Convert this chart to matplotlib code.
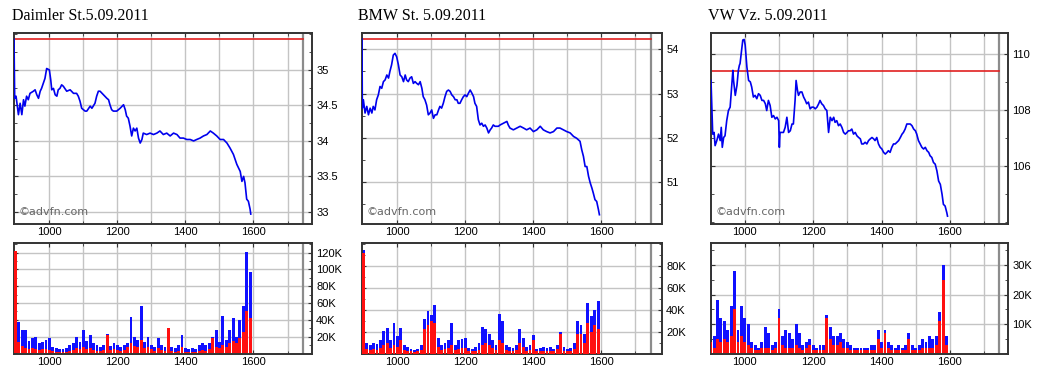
import matplotlib
matplotlib.use("Agg")
import matplotlib.pyplot as plt
from matplotlib.ticker import FixedLocator, AutoMinorLocator

# ---- data -------------------------------------------------------------
TITLES = ["Daimler St.5.09.2011", "BMW St. 5.09.2011", "VW Vz. 5.09.2011"]

DAI_T = [896, 898, 902, 909, 914, 919, 924, 928, 933, 938, 943, 953, 958, 963, 968, 973, 977, 982,
         987, 992, 1000, 1004, 1007, 1012, 1017, 1022, 1026, 1031, 1036, 1041, 1051, 1061, 1071,
         1080, 1085, 1090, 1095, 1100, 1105, 1110, 1120, 1125, 1134, 1139, 1144, 1149, 1159, 1169,
         1174, 1178, 1183, 1188, 1198, 1208, 1218, 1223, 1227, 1232, 1237, 1242, 1247, 1252, 1257,
         1262, 1267, 1272, 1276, 1286, 1296, 1306, 1316, 1325, 1335, 1345, 1355, 1365, 1375, 1384,
         1394, 1404, 1414, 1424, 1433, 1443, 1453, 1463, 1473, 1482, 1492, 1502, 1512, 1522, 1531,
         1541, 1551, 1561, 1566, 1571, 1575, 1580, 1585, 1590, 1592]
DAI_P = [35.43, 34.60, 34.63, 34.37, 34.53, 34.37, 34.58, 34.49, 34.63, 34.58, 34.67, 34.70, 34.72,
         34.65, 34.60, 34.70, 34.74, 34.81, 34.88, 35.02, 35.00, 34.86, 34.72, 34.74, 34.65, 34.63,
         34.72, 34.74, 34.79, 34.77, 34.70, 34.72, 34.67, 34.67, 34.63, 34.56, 34.46, 34.44, 34.42,
         34.42, 34.49, 34.46, 34.53, 34.63, 34.70, 34.70, 34.65, 34.60, 34.58, 34.51, 34.44, 34.42,
         34.42, 34.46, 34.51, 34.44, 34.35, 34.32, 34.21, 34.07, 34.18, 34.14, 34.18, 34.04, 33.97,
         34.02, 34.11, 34.09, 34.11, 34.09, 34.11, 34.14, 34.09, 34.11, 34.07, 34.11, 34.09, 34.04,
         34.04, 34.02, 34.02, 34.00, 34.02, 34.04, 34.07, 34.09, 34.14, 34.11, 34.07, 34.02, 34.02,
         33.97, 33.90, 33.81, 33.67, 33.57, 33.43, 33.50, 33.41, 33.18, 33.15, 33.04, 32.97]

BMW_T = [896, 897, 900, 905, 910, 915, 920, 925, 929, 934, 939, 944, 949, 954, 959, 964, 969, 974,
         978, 983, 988, 993, 998, 1003, 1008, 1013, 1018, 1023, 1027, 1032, 1037, 1042, 1047, 1052,
         1057, 1062, 1067, 1072, 1076, 1081, 1086, 1091, 1096, 1101, 1106, 1111, 1116, 1121, 1125,
         1130, 1135, 1140, 1145, 1150, 1155, 1160, 1165, 1170, 1175, 1179, 1184, 1189, 1194, 1199,
         1204, 1209, 1214, 1219, 1224, 1228, 1233, 1238, 1243, 1248, 1253, 1258, 1263, 1268, 1273,
         1277, 1282, 1287, 1292, 1297, 1302, 1312, 1322, 1326, 1331, 1341, 1351, 1361, 1371, 1380,
         1390, 1400, 1410, 1420, 1429, 1439, 1449, 1459, 1469, 1478, 1488, 1498, 1508, 1518, 1527,
         1537, 1542, 1547, 1552, 1557, 1562, 1567, 1572, 1576, 1581, 1586, 1591, 1594]
BMW_P = [54.23, 52.67, 52.86, 52.56, 52.71, 52.52, 52.67, 52.56, 52.71, 52.63, 52.86, 52.97, 53.16,
         53.12, 53.27, 53.31, 53.42, 53.35, 53.50, 53.65, 53.87, 53.91, 53.83, 53.65, 53.42, 53.38,
         53.27, 53.42, 53.31, 53.27, 53.35, 53.38, 53.23, 53.27, 53.23, 53.20, 53.27, 53.12, 52.93,
         52.86, 52.74, 52.52, 52.56, 52.63, 52.44, 52.52, 52.52, 52.63, 52.71, 52.67, 52.78, 52.93,
         53.05, 53.08, 53.05, 52.97, 52.93, 52.86, 52.86, 52.78, 52.78, 52.86, 52.93, 52.97, 52.93,
         53.01, 53.08, 53.01, 52.93, 52.78, 52.71, 52.41, 52.29, 52.33, 52.26, 52.29, 52.22, 52.11,
         52.18, 52.22, 52.29, 52.26, 52.26, 52.26, 52.29, 52.33, 52.37, 52.29, 52.22, 52.18, 52.22,
         52.26, 52.22, 52.18, 52.22, 52.14, 52.18, 52.26, 52.18, 52.14, 52.11, 52.14, 52.22, 52.22,
         52.18, 52.14, 52.11, 52.03, 51.99, 51.92, 51.73, 51.58, 51.35, 51.35, 51.13, 50.98, 50.86,
         50.75, 50.60, 50.56, 50.38, 50.26]

VW_T = [901, 906, 910, 913, 918, 923, 928, 931, 934, 938, 942, 947, 952, 957, 962, 965, 967, 972,
        977, 981, 984, 986, 991, 994, 998, 1001, 1006, 1011, 1016, 1020, 1025, 1030, 1035, 1040,
        1045, 1050, 1055, 1060, 1064, 1069, 1074, 1079, 1084, 1089, 1094, 1099, 1101, 1103, 1108,
        1113, 1118, 1123, 1128, 1133, 1138, 1142, 1147, 1150, 1154, 1157, 1162, 1167, 1172, 1177,
        1181, 1186, 1191, 1196, 1201, 1206, 1211, 1216, 1220, 1225, 1230, 1235, 1240, 1245, 1250,
        1255, 1260, 1264, 1269, 1274, 1279, 1284, 1289, 1294, 1299, 1303, 1308, 1313, 1318, 1323,
        1328, 1333, 1338, 1342, 1347, 1352, 1357, 1362, 1367, 1372, 1377, 1381, 1386, 1391, 1396,
        1401, 1406, 1411, 1416, 1420, 1425, 1430, 1435, 1440, 1445, 1450, 1455, 1460, 1464, 1469,
        1474, 1479, 1484, 1489, 1494, 1499, 1503, 1508, 1513, 1518, 1523, 1528, 1533, 1538, 1542,
        1547, 1552, 1557, 1562, 1567, 1572, 1577, 1581, 1586, 1591, 1593]
VW_P = [109.04, 107.13, 107.19, 106.72, 106.90, 107.13, 106.90, 107.37, 106.66, 107.01, 107.07,
        107.61, 107.97, 108.09, 108.93, 109.40, 109.04, 108.51, 108.87, 109.40, 109.58, 109.64,
        110.18, 110.48, 110.50, 110.30, 109.52, 109.04, 108.99, 108.81, 108.45, 108.51, 108.39,
        108.57, 108.51, 108.33, 108.33, 108.21, 107.97, 108.33, 108.15, 107.73, 107.79, 107.67,
        107.73, 107.61, 106.66, 107.19, 107.19, 107.19, 107.37, 107.73, 107.19, 107.25, 107.49,
        107.49, 108.33, 109.04, 108.69, 108.51, 108.63, 108.63, 108.45, 108.33, 108.21, 108.27,
        108.03, 108.09, 108.09, 108.03, 108.09, 108.21, 108.33, 108.21, 108.15, 108.03, 107.97,
        107.19, 107.73, 107.61, 107.73, 107.55, 107.61, 107.43, 107.49, 107.37, 107.19, 107.13,
        107.19, 107.25, 107.25, 107.31, 107.13, 107.19, 107.07, 107.01, 106.96, 106.78, 106.78,
        106.84, 106.78, 106.90, 106.96, 107.01, 106.96, 106.90, 107.01, 106.78, 106.66, 106.60,
        106.48, 106.42, 106.48, 106.54, 106.48, 106.66, 106.78, 106.78, 106.84, 106.90, 107.01,
        107.13, 107.19, 107.31, 107.49, 107.49, 107.49, 107.43, 107.31, 107.25, 107.13, 106.90,
        106.78, 106.66, 106.60, 106.66, 106.54, 106.48, 106.36, 106.30, 106.12, 106.06, 105.82,
        105.46, 105.34, 104.99, 104.63, 104.57, 104.33, 104.21]

# previous close (red line)
REF_LINE = [35.43, 54.23, 109.38]

# volume slots (hhmm-like time, one bar per slot), thousands of shares
VOL_T = [900, 910, 920, 930, 940, 950, 960, 970, 980, 990, 1000, 1010, 1020, 1030, 1040, 1050,
         1060, 1070, 1080, 1090, 1100, 1110, 1120, 1130, 1140, 1150, 1160, 1170, 1180, 1190, 1200,
         1210, 1220, 1230, 1240, 1250, 1260, 1270, 1280, 1290, 1300, 1310, 1320, 1330, 1340, 1350,
         1360, 1370, 1380, 1390, 1400, 1410, 1420, 1430, 1440, 1450, 1460, 1470, 1480, 1490, 1500,
         1510, 1520, 1530, 1540, 1550, 1560, 1570, 1580, 1590]
DAI_VOL = [122, 38, 28, 28, 15, 18, 20, 12, 14, 16, 19, 8, 6, 5, 5, 6, 10, 12, 20, 14, 28, 15, 22,
           12, 10, 8, 10, 23, 9, 12, 10, 8, 10, 12, 44, 20, 16, 57, 14, 20, 10, 8, 18, 10, 8, 30,
           8, 6, 10, 22, 6, 5, 6, 5, 10, 12, 10, 12, 20, 28, 14, 45, 16, 28, 42, 20, 40, 57, 121, 97]
DAI_RED = [122, 14, 9, 7, 5, 6, 5, 4, 5, 5, 4, 3, 2, 2, 2, 2, 3, 4, 6, 5, 8, 5, 6, 4, 3, 3, 4,
           22, 4, 5, 4, 3, 4, 8, 12, 9, 8, 16, 6, 8, 5, 3, 6, 4, 3, 30, 3, 2, 3, 8, 2, 2, 2,
           2, 3, 4, 3, 5, 18, 8, 6, 10, 8, 12, 15, 12, 18, 25, 50, 42]
BMW_VOL = [95, 10, 8, 10, 9, 12, 21, 23, 12, 28, 16, 23, 8, 6, 4, 3, 4, 8, 32, 39, 35, 44, 14, 8,
           10, 12, 28, 8, 12, 13, 14, 5, 4, 6, 10, 24, 22, 18, 12, 8, 36, 30, 8, 6, 5, 8, 22, 14,
           6, 8, 17, 4, 5, 6, 5, 6, 4, 8, 20, 6, 4, 5, 10, 30, 26, 18, 46, 34, 40, 48]
BMW_RED = [92, 4, 3, 4, 3, 5, 8, 10, 5, 8, 6, 12, 3, 2, 2, 1, 2, 3, 22, 26, 30, 28, 6, 3, 4, 5,
           8, 3, 4, 5, 5, 2, 2, 2, 3, 8, 10, 8, 5, 3, 12, 10, 3, 2, 2, 3, 10, 6, 2, 3, 12, 2, 2,
           2, 2, 2, 2, 4, 18, 2, 2, 2, 4, 18, 18, 10, 28, 20, 26, 22]
VW_VOL = [35, 6, 18, 12, 11, 8, 16, 28, 8, 16, 12, 10, 4, 3, 2, 4, 9, 7, 3, 4, 15, 6, 8, 7, 5, 10,
          7, 3, 4, 5, 3, 2, 3, 3, 13, 9, 6, 6, 7, 5, 4, 3, 2, 2, 2, 2, 2, 3, 3, 8, 4, 8, 4, 3, 2,
          3, 2, 3, 7, 3, 2, 3, 5, 4, 6, 5, 6, 14, 30, 6]
VW_RED = [4, 2, 5, 4, 5, 4, 6, 15, 4, 6, 4, 3, 2, 1, 1, 2, 2, 2, 1, 2, 12, 3, 2, 2, 2, 3, 2, 1, 2,
          3, 1, 1, 1, 1, 12, 5, 3, 3, 4, 2, 2, 1, 1, 1, 1, 1, 1, 1, 1, 5, 2, 7, 2, 1, 1, 1, 1, 1,
          5, 1, 1, 1, 2, 2, 2, 2, 3, 11, 25, 3]

PRICE_TICKS = [[33, 33.5, 34, 34.5, 35], [51, 52, 53, 54], [106, 108, 110]]
PRICE_LIM = [(32.83, 35.52), (50.05, 54.37), (103.93, 110.73)]
VOL_TICKS = [[20, 40, 60, 80, 100, 120], [20, 40, 60, 80], [10, 20, 30]]
VOL_LIM = [(-0.6, 131.5), (-0.4, 101), (-0.2, 37.5)]
X_LIM = [(896, 1772), (896, 1778), (901, 1770)]
X_TICKS = [1000, 1200, 1400, 1600]
X_GRID = [1000, 1100, 1200, 1300, 1400, 1500, 1600, 1700]
CLOSE_MARK = 1745

# ---- layout (pixels) --------------------------------------------------
W, H = 1041, 376
LEFTS = [14, 362, 711]
WIDTHS = [298, 300, 297]
TITLE_X = [12, 358, 708]

fig = plt.figure(figsize=(W / 100, H / 100), dpi=100)
fig.patch.set_facecolor("white")


def style_axes(ax, xlim, ylim, yticks, fmt):
    ax.set_xlim(*xlim)
    ax.set_ylim(*ylim)
    ax.xaxis.set_major_locator(FixedLocator(X_TICKS))
    ax.yaxis.set_major_locator(FixedLocator(yticks))
    ax.xaxis.set_minor_locator(FixedLocator([t for t in X_GRID if t not in X_TICKS]))
    ax.yaxis.set_minor_locator(AutoMinorLocator(2))
    ax.yaxis.tick_right()
    ax.tick_params(axis="both", which="both", direction="in", color="#333333",
                   labelsize=8, pad=2, left=True, right=True, top=True, bottom=True)
    ax.tick_params(which="major", length=3, width=0.8)
    ax.tick_params(which="minor", length=2, width=0.6)
    ax.tick_params(axis="y", pad=3)
    ax.set_yticklabels([fmt(v) for v in yticks], fontfamily="Liberation Sans")
    ax.set_xticklabels([str(v) for v in X_TICKS], fontfamily="Liberation Sans")
    for v in X_GRID:
        ax.axvline(v, color="#c4c4c4", lw=1.0, zorder=0)
    for v in yticks:
        ax.axhline(v, color="#c4c4c4", lw=1.0, zorder=0)
    ax.axvline(CLOSE_MARK, color="#8c8c8c", lw=1.6, zorder=1)
    for s in ax.spines.values():
        s.set_color("#333333")
        s.set_linewidth(1.4)


series = [(DAI_T, DAI_P, DAI_VOL, DAI_RED), (BMW_T, BMW_P, BMW_VOL, BMW_RED),
          (VW_T, VW_P, VW_VOL, VW_RED)]

for i, (t, p, vol, red) in enumerate(series):
    l = LEFTS[i] / W
    w = WIDTHS[i] / W
    ax = fig.add_axes([l, (H - 224) / H, w, 191 / H])
    ax.plot(t, p, color="#0000ee", lw=1.2, zorder=3)
    ax.axhline(REF_LINE[i], xmax=(CLOSE_MARK - X_LIM[i][0]) / (X_LIM[i][1] - X_LIM[i][0]),
               color="#e02020", lw=1.2, zorder=2)
    style_axes(ax, X_LIM[i], PRICE_LIM[i], PRICE_TICKS[i], lambda v: f"{v:g}")
    ax.text(0.015, 0.045, "\u00a9advfn.com", transform=ax.transAxes, fontsize=8,
            color="#666666", fontfamily="DejaVu Sans", zorder=4)
    fig.text(TITLE_X[i] / W, 1 - 16 / H, TITLES[i], fontsize=11.5, va="center",
             fontfamily="Liberation Serif")

    vax = fig.add_axes([l, (H - 354) / H, w, 111 / H])
    vax.bar(VOL_T, vol, width=8.5, color="#1010ff", linewidth=0, zorder=2)
    vax.bar(VOL_T, red, width=8.5, color="#ff1010", linewidth=0, zorder=3)
    style_axes(vax, X_LIM[i], VOL_LIM[i], VOL_TICKS[i], lambda v: f"{v}K")

fig.savefig("out.png", dpi=100)
